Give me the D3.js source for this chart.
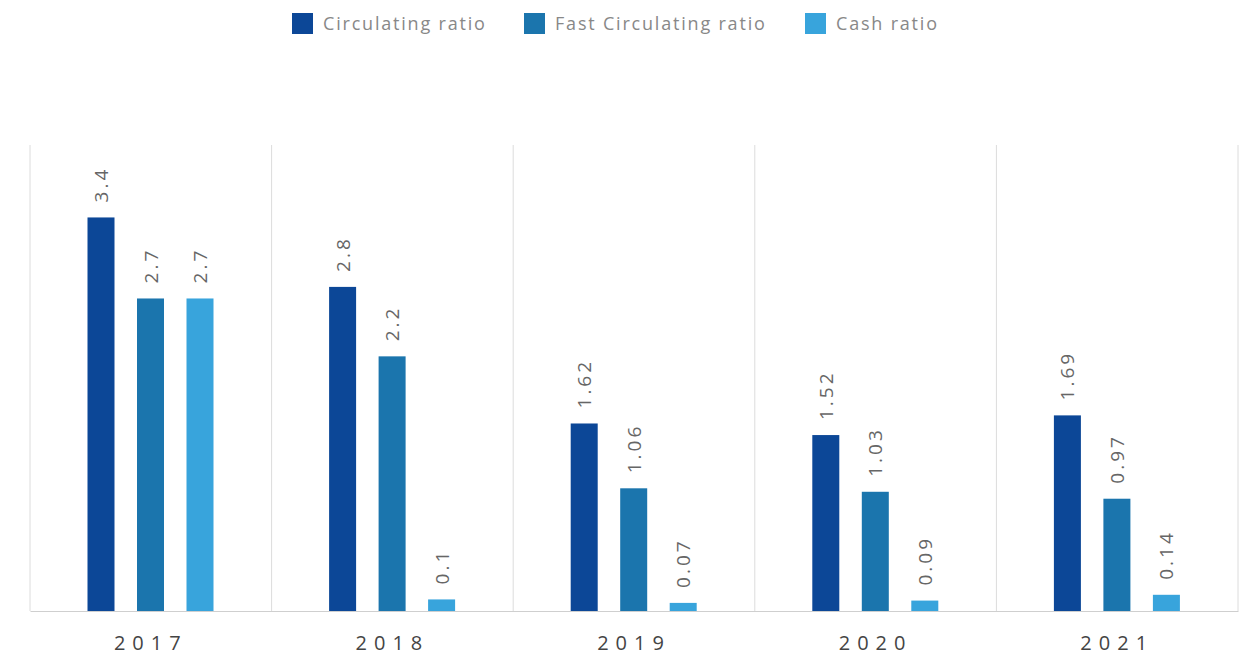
<!DOCTYPE html>
<html>
<head>
<meta charset="utf-8">
<script src="https://cdn.jsdelivr.net/npm/d3@7/dist/d3.min.js"></script>
<style>
  html, body { margin: 0; padding: 0; background: #fff; }
  svg { display: block; font-family: "Open Sans", "Noto Sans", sans-serif; }
</style>
</head>
<body>
<svg id="chart" width="1248" height="663"></svg>
<script>
// Liquidity ratios by year
const years = ["2017", "2018", "2019", "2020", "2021"];
const seriesNames = ["Circulating ratio", "Fast Circulating ratio", "Cash ratio"];
const circulating = [3.4, 2.8, 1.62, 1.52, 1.69];
const fastCirculating = [2.7, 2.2, 1.06, 1.03, 0.97];
const cash = [2.7, 0.1, 0.07, 0.09, 0.14];
const colors = ["#0c4797", "#1b75ad", "#38a4dc"];

const values = [circulating, fastCirculating, cash];

const svg = d3.select("#chart");
const margin = { left: 30, right: 10, top: 148, bottom: 52 };
const W = 1248, H = 663;
const baseY = H - margin.bottom;

const x0 = d3.scaleBand().domain(years).range([margin.left, W - margin.right]).padding(0);
// bars sit in the middle of each year band
const x1 = d3.scaleBand().domain(seriesNames).range([57.5, 183.5]).paddingInner(0.4545).paddingOuter(0);
const y = d3.scaleLinear().domain([0, 4]).range([baseY, margin.top]);

// category separators
const sepX = years.map(d => x0(d)).concat([x0.range()[1]]);
svg.append("g").selectAll("line").data(sepX).join("line")
  .attr("x1", d => d).attr("x2", d => d)
  .attr("y1", y(4) - 3).attr("y2", baseY)
  .attr("stroke", "#dcdcdc").attr("stroke-width", 1);

// bars
const groups = svg.append("g").selectAll("g").data(years).join("g")
  .attr("transform", d => `translate(${x0(d)},0)`);

groups.each(function(year, i) {
  const g = d3.select(this);
  seriesNames.forEach((s, k) => {
    const v = values[k][i];
    const bx = x1(s), bw = x1.bandwidth();
    const top = Math.min(y(v), baseY - 7);
    g.append("rect")
      .attr("x", bx).attr("width", bw)
      .attr("y", top).attr("height", baseY - top)
      .attr("fill", colors[k]);
    g.append("text")
      .attr("transform", `translate(${bx + bw / 2 + 7},${top - 15}) rotate(-90)`)
      .attr("text-anchor", "start")
      .attr("font-size", 19)
      .attr("fill", "#666")
      .attr("letter-spacing", 3)
      .text(v);
  });
});

// x axis
const xAxis = svg.append("g").attr("transform", `translate(0,${baseY})`)
  .call(d3.axisBottom(x0).tickSize(0).tickPadding(25));
xAxis.select(".domain").attr("stroke", "#cfcfcf");
xAxis.selectAll("text")
  .attr("font-size", 20).attr("fill", "#444")
  .attr("letter-spacing", 7)
  .attr("font-family", "\"Open Sans\", sans-serif");

// legend
const legendX = [292, 524, 805];
const legend = svg.append("g").selectAll("g").data(seriesNames).join("g")
  .attr("transform", (d, i) => `translate(${legendX[i]},13)`);
legend.append("rect").attr("width", 21).attr("height", 21).attr("fill", (d, i) => colors[i]);
legend.append("text").attr("x", 31).attr("y", 17)
  .attr("font-size", 18).attr("fill", "#888")
  .attr("letter-spacing", 1.8)
  .text(d => d);
</script>
</body>
</html>
